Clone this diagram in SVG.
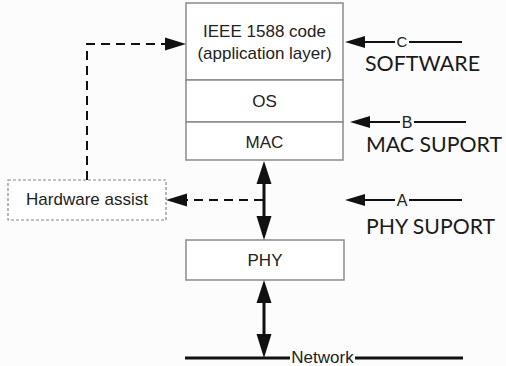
<svg xmlns="http://www.w3.org/2000/svg" width="506" height="366" viewBox="0 0 506 366">
<style>
.box{fill:#fff;stroke:#8a8a8a;stroke-width:1.5}
.hw{fill:#fff;stroke:#888;stroke-width:1.2;stroke-dasharray:3 2}
.t{font-family:"Liberation Sans",Arial,sans-serif;font-size:17px;fill:#222;text-anchor:middle}
.lab{font-family:"Liberation Sans",Arial,sans-serif;font-size:16px;fill:#222;text-anchor:middle}
.big{font-family:Lato,"Open Sans",sans-serif;font-size:22px;fill:#1a1a1a}
.solid{stroke:#111;stroke-width:2;fill:none}
.thick{stroke:#111;stroke-width:3;fill:none}
.dash{stroke:#111;stroke-width:2;fill:none;stroke-dasharray:9 6}
.head{fill:#111}
</style>
<rect width="506" height="366" fill="#fcfcfc"/>
<g id="app">
<rect class="box" x="186" y="3" width="157" height="77"/>
<text class="t" x="264.5" y="37">IEEE 1588 code</text>
<text class="t" x="264.5" y="59">(application layer)</text>
</g>
<g id="os">
<rect class="box" x="186" y="80" width="157" height="42"/>
<text class="t" x="264.5" y="107">OS</text>
</g>
<g id="mac">
<rect class="box" x="186" y="122" width="157" height="38"/>
<text class="t" x="264.5" y="148">MAC</text>
</g>
<g id="phy">
<rect class="box" x="186" y="240" width="158" height="40"/>
<text class="t" x="265" y="266">PHY</text>
</g>
<g id="hardware">
<rect class="hw" x="8" y="180" width="158" height="40"/>
<text class="t" x="87" y="205">Hardware assist</text>
</g>
<g id="network">
<line class="thick" x1="185" y1="358" x2="290" y2="358"/>
<line class="thick" x1="355" y1="358" x2="463" y2="358"/>
<text class="t" x="322.5" y="363">Network</text>
</g>
<g id="connectors">
<line class="thick" x1="264" y1="180" x2="264" y2="220"/>
<polygon class="head" points="264,161 256.5,184 271.5,184"/>
<polygon class="head" points="264,240 256.5,216 271.5,216"/>
<line class="thick" x1="264" y1="300" x2="264" y2="338"/>
<polygon class="head" points="264,280 256.5,303 271.5,303"/>
<polygon class="head" points="264,358 256.5,334 271.5,334"/>
<line class="dash" x1="263" y1="200" x2="184" y2="200"/>
<polygon class="head" points="166,200 187,193.5 187,206.5"/>
<path class="dash" d="M87,180 V44 H168"/>
<polygon class="head" points="186,44 165,37.5 165,50.5"/>
<polygon class="head" points="345,42 365,36 365,48"/>
<line class="solid" x1="364" y1="42" x2="395" y2="42"/>
<line class="solid" x1="409" y1="42" x2="462" y2="42"/>
<text class="lab" x="402" y="47" style="font-size:15px">C</text>
<polygon class="head" points="350,122 370,116 370,128"/>
<line class="solid" x1="369" y1="122" x2="400" y2="122"/>
<line class="solid" x1="414" y1="122" x2="466" y2="122"/>
<text class="lab" x="407" y="127.5">B</text>
<polygon class="head" points="345,200 365,194 365,206"/>
<line class="solid" x1="364" y1="200" x2="395" y2="200"/>
<line class="solid" x1="409" y1="200" x2="462" y2="200"/>
<text class="lab" x="402" y="205.5">A</text>
</g>
<text class="big" x="365" y="71" textLength="115" lengthAdjust="spacingAndGlyphs">SOFTWARE</text>
<text class="big" x="366" y="152" textLength="136" lengthAdjust="spacingAndGlyphs">MAC SUPORT</text>
<text class="big" x="366" y="234" textLength="129" lengthAdjust="spacingAndGlyphs">PHY SUPORT</text>
</svg>
